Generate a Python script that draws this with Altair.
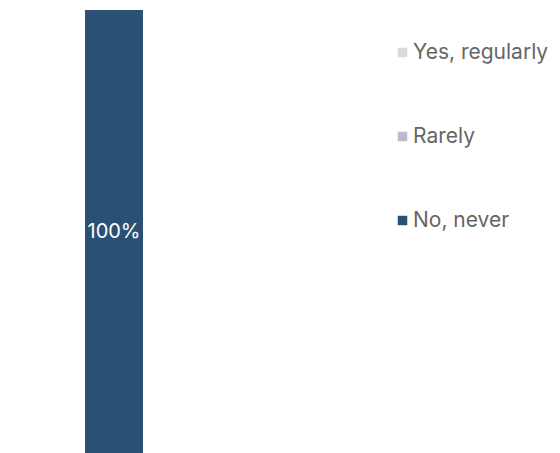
import altair as alt
import pandas as pd

categories = ["Yes, regularly", "Rarely", "No, never"]
values = [0, 0, 100]
colors = ["#d9d9de", "#c0b8cf", "#2a5074"]
order = [3, 2, 1]
group = ["All"] * 3

df = pd.DataFrame({"group": group, "answer": categories, "value": values, "order": order})
df["label"] = df["value"].map(lambda v: f"{v}%")

xscale = alt.Scale(paddingInner=0.2, paddingOuter=0.4)
yscale = alt.Scale(domain=[0, 100], nice=False)

bars = alt.Chart(df).mark_bar(size=58).encode(
    x=alt.X("group:N", scale=xscale, axis=None),
    y=alt.Y("value:Q", stack="zero", scale=yscale, axis=None),
    color=alt.Color(
        "answer:N",
        scale=alt.Scale(domain=categories, range=colors),
        legend=alt.Legend(
            title=None,
            orient="none",
            legendX=392,
            legendY=32,
            symbolType="square",
            symbolSize=90,
            symbolStrokeWidth=0,
            labelFont="Inter",
            labelFontSize=21,
            labelColor="#666666",
            rowPadding=62,
            symbolOffset=0,
            labelOffset=0,
        ),
    ),
    order=alt.Order("order:Q"),
)

text = alt.Chart(df).transform_filter("datum.value > 0").transform_calculate(
    mid="datum.value / 2"
).mark_text(color="white", font="Inter", fontSize=20).encode(
    x=alt.X("group:N", scale=xscale, axis=None),
    y=alt.Y("mid:Q", scale=yscale, axis=None),
    text="label:N",
)

chart = alt.layer(bars, text).properties(
    width=228,
    height=443,
    autosize=alt.AutoSizeParams(type="none"),
    padding={"left": 0, "top": 10, "right": 332, "bottom": 0},
).configure_view(stroke=None)

chart.save("out.html", embed_options={"renderer": "svg", "actions": False})
